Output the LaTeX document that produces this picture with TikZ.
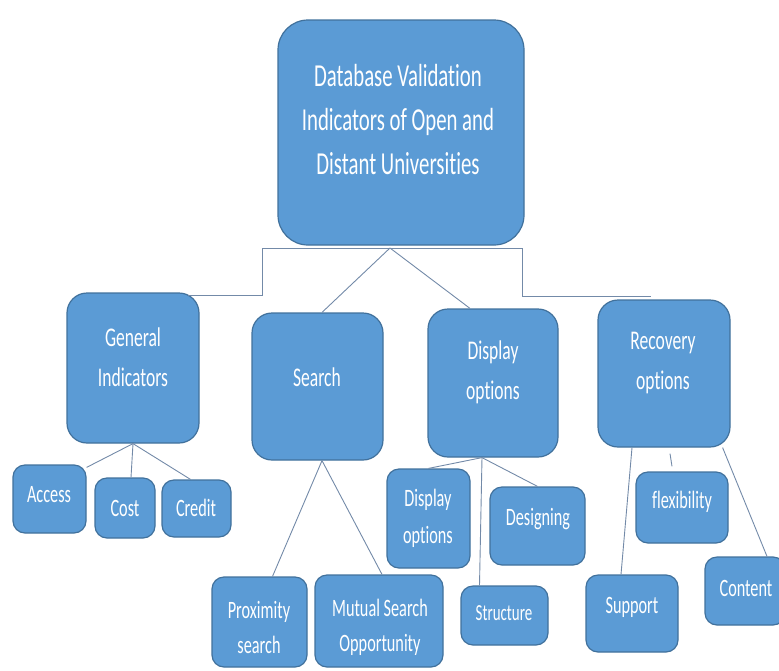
\documentclass[tikz,border=0pt]{standalone}
\usepackage{fontspec}
\newfontfamily\boxfont[FakeStretch=0.65, Ligatures=NoCommon]{Carlito}
\definecolor{boxfill}{HTML}{5B9BD5}
\definecolor{boxline}{HTML}{41719C}
\definecolor{linkline}{RGB}{115,138,168}
\tikzset{
    box/.style = {draw = boxline, line width = 1.2pt, fill = boxfill, rounded corners = 12pt, inner sep = 0pt},
    bigbox/.style = {box, rounded corners = 30pt},
    midbox/.style = {box, rounded corners = 20pt},
    txt/.style = {text = white, align = center, inner sep = 0pt, font = \boxfont\fontsize{25}{37}\selectfont},
    bigtxt/.style = {txt, font = \boxfont\fontsize{32}{44}\selectfont},
    midtxt/.style = {txt, font = \boxfont\fontsize{27}{40}\selectfont},
    link/.style = {draw = linkline, line width = 0.9pt}
}
\begin{document}
\begin{tikzpicture}[x = 1pt, y = -1pt]
                \useasboundingbox (0,0) rectangle (779,670);
                \begin{scope}
                \clip (0,0) rectangle (779,670);
                % boxes
                \node[bigbox, minimum width = 246pt, minimum height = 225pt] (db) at (401,132.5) {};
                \node[midbox, minimum width = 132pt, minimum height = 150pt] (gen) at (133,368) {};
                \node[midbox, minimum width = 131pt, minimum height = 147pt] (srch) at (317.5,386.5) {};
                \node[midbox, minimum width = 130pt, minimum height = 148pt] (disp) at (493,383) {};
                \node[midbox, minimum width = 132pt, minimum height = 147pt] (rec) at (664,373.5) {};
                \node[box, minimum width = 73pt, minimum height = 68pt] (acc) at (49.5,499) {};
                \node[box, minimum width = 60pt, minimum height = 60pt] (cost) at (125,508) {};
                \node[box, minimum width = 69pt, minimum height = 57pt] (cred) at (196.5,508.5) {};
                \node[box, minimum width = 95pt, minimum height = 90pt] (prox) at (259.5,622) {};
                \node[box, minimum width = 128pt, minimum height = 92pt] (mut) at (379,621) {};
                \node[box, minimum width = 83pt, minimum height = 99pt] (dopt) at (428.5,518.5) {};
                \node[box, minimum width = 95pt, minimum height = 78pt] (dsgn) at (537.5,526) {};
                \node[box, minimum width = 87pt, minimum height = 59pt] (strc) at (504.5,615.5) {};
                \node[box, minimum width = 92pt, minimum height = 71pt] (flex) at (682,507.5) {};
                \node[box, minimum width = 92pt, minimum height = 77pt] (supp) at (632,613.5) {};
                \node[box, minimum width = 80pt, minimum height = 68pt] (cont) at (745,591) {};
                % texts
                \node[bigtxt] (db-t) at (398,120) {Database Validation\\Indicators of Open and\\Distant Universities};
                \node[midtxt] (gen-t) at (133,357) {General\\Indicators};
                \node[midtxt] (srch-t) at (317,377) {Search};
                \node[midtxt] (disp-t) at (493,372) {Display\\options};
                \node[midtxt] (rec-t) at (663,363) {Recovery\\options};
                \node[txt] (acc-t) at (49,495) {Access};
                \node[txt] (cost-t) at (125,508) {Cost};
                \node[txt] (cred-t) at (196,508) {Credit};
                \node[txt, font = \boxfont\fontsize{25}{35}\selectfont] (prox-t) at (259,627) {Proximity\\search};
                \node[txt, font = \boxfont\fontsize{25}{35}\selectfont] (mut-t) at (380,627) {Mutual Search\\Opportunity};
                \node[txt] (dopt-t) at (428,518) {Display\\options};
                \node[txt] (dsgn-t) at (538,519) {Designing};
                \node[txt, font = \boxfont\fontsize{23}{30}\selectfont] (strc-t) at (504,613) {Structure};
                \node[txt] (flex-t) at (682,502) {flexibility};
                \node[txt] (supp-t) at (632,607) {Support};
                \node[txt] (cont-t) at (746,588) {Content};
                % links from the top box
                \coordinate (jl) at (262,248);
                \coordinate (jr) at (522,248);
                \coordinate (apex) at (390,248);
                \draw[link] ([xshift = -12pt, yshift = -3pt]gen.north east) -| (jl) -- (jr) |- ([xshift = 54pt, yshift = 3pt]rec.north west);
                \draw[link] (apex) -- ([xshift = 4.5pt]srch.north);
                \draw[link] (apex) -- ([xshift = -23pt]disp.north);
                % links below
                \draw[link] (gen.south) -- ([yshift = -3pt]acc.north east);
                \draw[link] (gen.south) -- ([xshift = 6pt]cost.north);
                \draw[link] (gen.south) -- ([xshift = -6pt]cred.north);
                \draw[link] ([xshift = 4.5pt]srch.south) -- ([xshift = 13pt]prox.north);
                \draw[link] ([xshift = 4.5pt]srch.south) -- ([xshift = 3pt]mut.north);
                \draw[link] ([xshift = -11pt]disp.south) -- (dopt.north);
                \draw[link] ([xshift = -11pt]disp.south) -- (dsgn.north);
                \draw[link] ([xshift = -11pt]disp.south) -- ([xshift = -25pt]strc.north);
                \draw[link] ([xshift = -32pt]rec.south) -- ([xshift = -11pt]supp.north);
                \draw[link] ([xshift = 6pt, yshift = -6pt]rec.south) -- ([xshift = -10pt, yshift = 5pt]flex.north);
                \draw[link] ([xshift = -8pt]rec.south east) -- ([xshift = 22pt]cont.north);
                \end{scope}
            \end{tikzpicture}
\end{document}
